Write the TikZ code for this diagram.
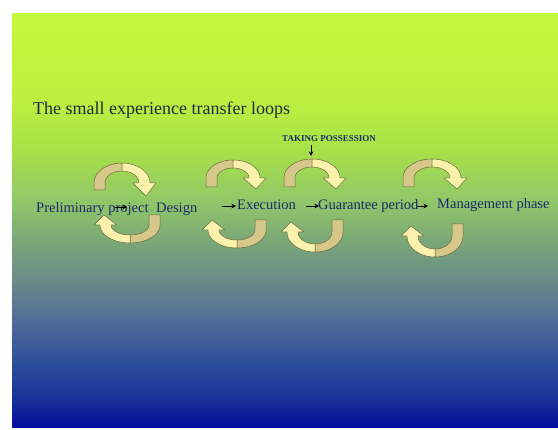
\documentclass[tikz,border=0pt]{standalone}
\usepackage{fontspec}
\setmainfont{Liberation Serif}
\usetikzlibrary{arrows.meta}

% background bands, top to bottom
\definecolor{bgA}{RGB}{196,248,60}
\definecolor{bgB}{RGB}{188,240,64}
\definecolor{bgC}{RGB}{168,224,72}
\definecolor{bgD}{RGB}{144,200,104}
\definecolor{bgE}{RGB}{122,168,120}
\definecolor{bgF}{RGB}{106,140,136}
\definecolor{bgG}{RGB}{80,108,152}
\definecolor{bgH}{RGB}{48,80,154}
\definecolor{bgI}{RGB}{24,48,154}
\definecolor{bgJ}{RGB}{0,12,156}
% ribbon arrows and text
\definecolor{ribdark}{RGB}{214,200,138}
\definecolor{riblight}{RGB}{250,242,172}
\definecolor{ribline}{RGB}{110,105,60}
\definecolor{labelblue}{RGB}{28,42,105}
\definecolor{titleink}{RGB}{30,43,60}

\tikzset{
  ribback/.style={fill=ribdark, draw=ribline, line width=0.5pt, line join=round},
  ribfront/.style={fill=riblight, draw=ribline, line width=0.5pt, line join=round},
  phase/.style={anchor=base west, inner sep=0pt, text=labelblue,
    font=\fontsize{14.5}{16}\selectfont},
  heading/.style={anchor=base west, inner sep=0pt, text=titleink,
    font=\fontsize{18}{20}\selectfont},
  milestone/.style={anchor=base, inner sep=0pt, text=labelblue,
    font=\bfseries\fontsize{9}{10}\selectfont},
  tinyarrow/.style={draw=black, line width=0.6pt,
    -{Stealth[length=4.5pt,width=4.5pt]}}
}

% upper ribbon: centre x, outer radii a/b, arc base y, leg end y, head length
\newcommand\upperloop[6]{%
  \path[ribback] ({#1-#2},{#5})
    -- plot[domain=180:90,samples=24] ({#1+#2*cos(\x)},{#4-#3*sin(\x)})
    -- plot[domain=90:180,samples=24] ({#1+(#2-11)*cos(\x)},{#4-(#3-8)*sin(\x)})
    -- ({#1-#2+11},{#5}) -- cycle;
  \path[ribfront] plot[domain=90:0,samples=24] ({#1+#2*cos(\x)},{#4-#3*sin(\x)})
    -- ({#1+#2+6},{#4}) -- ({#1+#2-4},{#4+#6}) -- ({#1+#2-17},{#4})
    -- plot[domain=0:90,samples=24] ({#1+(#2-11)*cos(\x)},{#4-(#3-8)*sin(\x)})
    -- cycle;}
% lower ribbon: centre x, outer radii a/b, arc base y, leg end y, head length
\newcommand\lowerloop[6]{%
  \path[ribback] ({#1+#2},{#5})
    -- plot[domain=0:-90,samples=24] ({#1+#2*cos(\x)},{#4-#3*sin(\x)})
    -- plot[domain=-90:0,samples=24] ({#1+(#2-11)*cos(\x)},{#4-(#3-8)*sin(\x)})
    -- ({#1+#2-11},{#5}) -- cycle;
  \path[ribfront] plot[domain=-90:-180,samples=24] ({#1+#2*cos(\x)},{#4-#3*sin(\x)})
    -- ({#1-#2-6},{#4}) -- ({#1-#2+4},{#4-#6}) -- ({#1-#2+17},{#4})
    -- plot[domain=-180:-90,samples=24] ({#1+(#2-11)*cos(\x)},{#4-(#3-8)*sin(\x)})
    -- cycle;}

\begin{document}
\begin{tikzpicture}[x=1pt,y=-1pt]
\useasboundingbox (0,0) rectangle (558,430);
\fill[white] (0,0) rectangle (558,430);

% slide background
\shade[top color=bgA,bottom color=bgB] (12,14) rectangle (558,100.6);
\shade[top color=bgB,bottom color=bgC] (12,100) rectangle (558,150.6);
\shade[top color=bgC,bottom color=bgD] (12,150) rectangle (558,200.6);
\shade[top color=bgD,bottom color=bgE] (12,200) rectangle (558,240.6);
\shade[top color=bgE,bottom color=bgF] (12,240) rectangle (558,280.6);
\shade[top color=bgF,bottom color=bgG] (12,280) rectangle (558,320.6);
\shade[top color=bgG,bottom color=bgH] (12,320) rectangle (558,360.6);
\shade[top color=bgH,bottom color=bgI] (12,360) rectangle (558,400.6);
\shade[top color=bgI,bottom color=bgJ] (12,400) rectangle (558,428);

% title
\node[heading] (title) at (33,115) {The small experience transfer loops};

% the four feedback loops
\upperloop{122}{28}{20}{183}{190}{13}
\lowerloop{130}{30}{18}{225}{215}{10}
\upperloop{233}{27}{18}{178}{187}{11}
\lowerloop{237}{29}{18}{230}{220}{10}
\upperloop{312}{28}{19}{178}{187}{11}
\lowerloop{315}{28}{20}{232}{220}{10}
\upperloop{432}{29}{19}{178}{187}{11}
\lowerloop{435}{28}{21}{236}{224}{10}

% phases
\node[phase] (prelim) at (36,212.5) {Preliminary project};
\node[phase] (design) at (156,212.5) {Design};
\node[phase] (exec) at (237,210) {Execution};
\node[phase] (guar) at (318,210) {Guarantee period};
\node[phase] (mgmt) at (437,209) {Management phase};
\node[milestone] (taking) at (329,142) {TAKING POSSESSION};

% short transfer arrows
\coordinate (p1) at (115,207);
\coordinate (p2) at (127,207);
\draw[tinyarrow] (p1) -- (p2);
\coordinate (e1) at (222,206);
\coordinate (e2) at (236,206);
\draw[tinyarrow] (e1) -- (e2);
\coordinate (g1) at (306,206);
\coordinate (g2) at (319,206);
\draw[tinyarrow] (g1) -- (g2);
\coordinate (m1) at (417,206);
\coordinate (m2) at (428,206);
\draw[tinyarrow] (m1) -- (m2);
\coordinate (t1) at (311,145);
\coordinate (t2) at (311,156);
\draw[tinyarrow] (t1) -- (t2);
\end{tikzpicture}
\end{document}
